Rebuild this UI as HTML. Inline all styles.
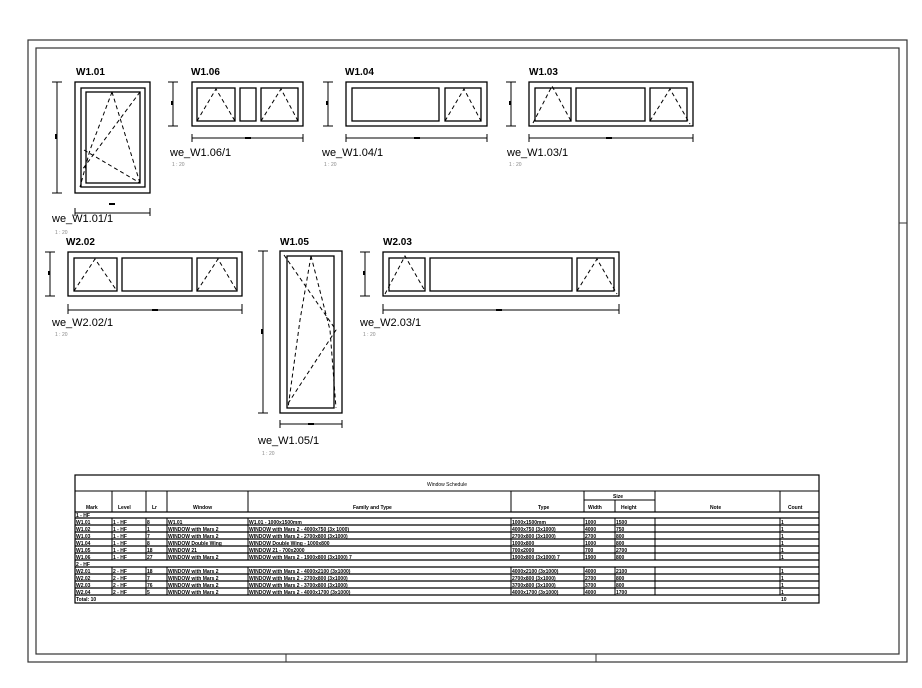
<!DOCTYPE html>
<html><head><meta charset="utf-8"><style>
html,body{margin:0;padding:0;background:#fff}
svg{display:block}
.t{font-family:"Liberation Sans",sans-serif;font-weight:bold;font-size:10px;fill:#000}
.n{font-family:"Liberation Sans",sans-serif;font-size:11px;fill:#000}
.s{font-family:"Liberation Sans",sans-serif;font-size:5px;fill:#888}
.x{font-family:"Liberation Sans",sans-serif;font-size:5px;fill:#000}
.xb{font-family:"Liberation Sans",sans-serif;font-size:5px;font-weight:bold;fill:#000}
.f{fill:none;stroke:#000;stroke-width:1.3}
.d{fill:none;stroke:#000;stroke-width:1;stroke-dasharray:4,3}
.l{stroke:#000;stroke-width:1;fill:none}
</style></head><body>
<svg width="922" height="688" viewBox="0 0 922 688" xmlns="http://www.w3.org/2000/svg">
<rect x="28" y="40" width="879" height="622" fill="none" stroke="#333" stroke-width="1.2"/>
<rect x="36" y="48" width="863" height="606" fill="none" stroke="#333" stroke-width="1.2"/>
<line x1="899" y1="223" x2="907" y2="223" stroke="#333"/>
<line x1="286" y1="654" x2="286" y2="662" stroke="#333"/>
<line x1="596" y1="654" x2="596" y2="662" stroke="#333"/>

<text class="t" x="76" y="75">W1.01</text>
<rect class="f" x="75" y="82" width="75" height="111"/>
<rect class="f" x="81" y="88" width="64" height="99"/>
<rect class="f" x="86" y="92" width="54" height="91"/>
<path class="d" d="M112,92 L90,150 L80,187 M112,92 L140,183 M140,92 L82,170 M84,150 L140,183"/>
<path class="l" d="M57,82 V193 M52,82 H62 M52,193 H62 M75,208 V216 M150,208 V216 M75,213 H150"/>
<rect x="55" y="134" width="2" height="5" fill="#000"/>
<rect x="109" y="203" width="6" height="2" fill="#000"/>
<text class="n" x="52" y="222">we_W1.01/1</text>
<text class="s" x="55" y="234">1 : 20</text>

<text class="t" x="191" y="75">W1.06</text>
<rect class="f" x="192" y="82" width="111" height="44"/>
<rect class="f" x="197" y="88" width="38" height="33"/>
<rect class="f" x="240" y="88" width="16" height="33"/>
<rect class="f" x="261" y="88" width="37" height="33"/>
<path class="d" d="M197,121 L216,89 L235,121 M261,121 L281,89 L298,121"/>
<path class="l" d="M173,82 V126 M168,82 H178 M168,126 H178 M192,134 V142 M303,134 V142 M192,138 H303"/>
<rect x="171" y="101" width="2" height="4" fill="#000"/>
<rect x="245" y="137" width="6" height="2" fill="#000"/>
<text class="n" x="170" y="156">we_W1.06/1</text>
<text class="s" x="172" y="166">1 : 20</text>

<text class="t" x="345" y="75">W1.04</text>
<rect class="f" x="346" y="82" width="141" height="44"/>
<rect class="f" x="352" y="88" width="87" height="33"/>
<rect class="f" x="445" y="88" width="36" height="33"/>
<path class="d" d="M445,121 L464,89 L481,121"/>
<path class="l" d="M328,82 V126 M323,82 H333 M323,126 H333 M346,134 V142 M487,134 V142 M346,138 H487"/>
<rect x="326" y="101" width="2" height="4" fill="#000"/>
<rect x="414" y="137" width="6" height="2" fill="#000"/>
<text class="n" x="322" y="156">we_W1.04/1</text>
<text class="s" x="324" y="166">1 : 20</text>

<text class="t" x="529" y="75">W1.03</text>
<rect class="f" x="529" y="82" width="164" height="44"/>
<rect class="f" x="535" y="88" width="36" height="33"/>
<rect class="f" x="576" y="88" width="69" height="33"/>
<rect class="f" x="650" y="88" width="37" height="33"/>
<path class="d" d="M533,123 L552,86 L571,121 M650,121 L670,89 L690,124"/>
<path class="l" d="M511,82 V126 M506,82 H516 M506,126 H516 M529,134 V142 M693,134 V142 M529,138 H693"/>
<rect x="509" y="101" width="2" height="4" fill="#000"/>
<rect x="606" y="137" width="6" height="2" fill="#000"/>
<text class="n" x="507" y="156">we_W1.03/1</text>
<text class="s" x="509" y="166">1 : 20</text>

<text class="t" x="66" y="245">W2.02</text>
<rect class="f" x="68" y="252" width="174" height="44"/>
<rect class="f" x="74" y="258" width="43" height="33"/>
<rect class="f" x="122" y="258" width="70" height="33"/>
<rect class="f" x="197" y="258" width="40" height="33"/>
<path class="d" d="M74,291 L95,259 L117,291 M197,291 L218,259 L237,291"/>
<path class="l" d="M50,252 V296 M45,252 H55 M45,296 H55 M68,304 V314 M242,304 V314 M68,310 H242"/>
<rect x="48" y="271" width="2" height="4" fill="#000"/>
<rect x="152" y="309" width="6" height="2" fill="#000"/>
<text class="n" x="52" y="326">we_W2.02/1</text>
<text class="s" x="55" y="336">1 : 20</text>

<text class="t" x="280" y="245">W1.05</text>
<rect class="f" x="280" y="251" width="62" height="162"/>
<rect class="f" x="287" y="256" width="47" height="152"/>
<path class="d" d="M284,255 L336,330 L287,405 M311,256 L300,320 L288,408 M311,256 L330,330 L336,408"/>
<path class="l" d="M263,251 V413 M258,251 H268 M258,413 H268 M280,420 V428 M342,420 V428 M280,424 H342"/>
<rect x="261" y="329" width="2" height="5" fill="#000"/>
<rect x="308" y="423" width="6" height="2" fill="#000"/>
<text class="n" x="258" y="444">we_W1.05/1</text>
<text class="s" x="262" y="455">1 : 20</text>

<text class="t" x="383" y="245">W2.03</text>
<rect class="f" x="383" y="252" width="236" height="44"/>
<rect class="f" x="389" y="258" width="36" height="33"/>
<rect class="f" x="430" y="258" width="142" height="33"/>
<rect class="f" x="577" y="258" width="37" height="33"/>
<path class="d" d="M385,294 L405,256 L425,291 M577,291 L597,259 L617,294"/>
<path class="l" d="M365,252 V296 M360,252 H370 M360,296 H370 M383,304 V314 M619,304 V314 M383,310 H619"/>
<rect x="363" y="271" width="2" height="4" fill="#000"/>
<rect x="496" y="309" width="6" height="2" fill="#000"/>
<text class="n" x="360" y="326">we_W2.03/1</text>
<text class="s" x="363" y="336">1 : 20</text>

<g>
<rect x="75" y="475" width="744" height="128" fill="none" stroke="#000" stroke-width="1.2"/>
<line x1="75" y1="491" x2="819" y2="491" stroke="#000"/>
<line x1="75" y1="512" x2="819" y2="512" stroke="#000" stroke-width="1.2"/>
<text class="x" x="447" y="486" text-anchor="middle" font-size="6">Window Schedule</text>
<g stroke="#000" stroke-width="1">
<line x1="112" y1="491" x2="112" y2="512"/><line x1="146" y1="491" x2="146" y2="512"/>
<line x1="167" y1="491" x2="167" y2="512"/><line x1="248" y1="491" x2="248" y2="512"/>
<line x1="511" y1="491" x2="511" y2="512"/><line x1="584" y1="491" x2="584" y2="512"/>
<line x1="655" y1="491" x2="655" y2="512"/><line x1="780" y1="491" x2="780" y2="512"/>
<line x1="584" y1="500" x2="655" y2="500"/><line x1="615" y1="500" x2="615" y2="512"/>
</g>
<g class="x" font-size="5.5" font-weight="bold">
<text x="86" y="509">Mark</text><text x="118" y="509">Level</text><text x="152" y="509">Lr</text>
<text x="193" y="509">Window</text><text x="353" y="509">Family and Type</text>
<text x="538" y="509">Type</text><text x="613" y="498">Size</text>
<text x="588" y="509">Width</text><text x="621" y="509">Height</text>
<text x="710" y="509">Note</text><text x="788" y="509">Count</text>
</g>
<g stroke="#000" stroke-width="1.2">
<line x1="75" y1="518" x2="819" y2="518"/><line x1="75" y1="525" x2="819" y2="525"/>
<line x1="75" y1="532" x2="819" y2="532"/><line x1="75" y1="539" x2="819" y2="539"/>
<line x1="75" y1="546" x2="819" y2="546"/><line x1="75" y1="553" x2="819" y2="553"/>
<line x1="75" y1="560" x2="819" y2="560"/>
<line x1="75" y1="567" x2="819" y2="567"/><line x1="75" y1="574" x2="819" y2="574"/>
<line x1="75" y1="581" x2="819" y2="581"/><line x1="75" y1="588" x2="819" y2="588"/>
<line x1="75" y1="595" x2="819" y2="595"/>
</g>
<g stroke="#000" stroke-width="1">
<path d="M112,518V560M146,518V560M167,518V560M248,518V560M511,518V560M584,518V560M615,518V560M655,518V560M780,518V560"/>
<path d="M112,567V595M146,567V595M167,567V595M248,567V595M511,567V595M584,567V595M615,567V595M655,567V595M780,567V595"/>
</g>
<g class="xb">
<text x="76" y="517">1 - HF</text>
<text x="76" y="524">W1.01</text><text x="113" y="524">1 - HF</text><text x="147" y="524">8</text><text x="168" y="524">W1.01</text><text x="249" y="524">W1.01 - 1000x1500mm</text><text x="512" y="524">1000x1500mm</text><text x="585" y="524">1000</text><text x="616" y="524">1500</text><text x="781" y="524">1</text>
<text x="76" y="531">W1.02</text><text x="113" y="531">1 - HF</text><text x="147" y="531">1</text><text x="168" y="531">WINDOW with Mars 2</text><text x="249" y="531">WINDOW with Mars 2 - 4000x750 (3x 1000)</text><text x="512" y="531">4000x750 (3x1000)</text><text x="585" y="531">4000</text><text x="616" y="531">750</text><text x="781" y="531">1</text>
<text x="76" y="538">W1.03</text><text x="113" y="538">1 - HF</text><text x="147" y="538">7</text><text x="168" y="538">WINDOW with Mars 2</text><text x="249" y="538">WINDOW with Mars 2 - 2700x800 (3x1000)</text><text x="512" y="538">2700x800 (3x1000)</text><text x="585" y="538">2700</text><text x="616" y="538">800</text><text x="781" y="538">1</text>
<text x="76" y="545">W1.04</text><text x="113" y="545">1 - HF</text><text x="147" y="545">8</text><text x="168" y="545">WINDOW Double Wing</text><text x="249" y="545">WINDOW Double Wing - 1000x800</text><text x="512" y="545">1000x800</text><text x="585" y="545">1000</text><text x="616" y="545">800</text><text x="781" y="545">1</text>
<text x="76" y="552">W1.05</text><text x="113" y="552">1 - HF</text><text x="147" y="552">18</text><text x="168" y="552">WINDOW 21</text><text x="249" y="552">WINDOW 21 - 700x2000</text><text x="512" y="552">700x2000</text><text x="585" y="552">700</text><text x="616" y="552">2700</text><text x="781" y="552">1</text>
<text x="76" y="559">W1.06</text><text x="113" y="559">1 - HF</text><text x="147" y="559">27</text><text x="168" y="559">WINDOW with Mars 2</text><text x="249" y="559">WINDOW with Mars 2 - 1900x800 (3x1000) 7</text><text x="512" y="559">1900x800 (3x1000) 7</text><text x="585" y="559">1900</text><text x="616" y="559">800</text><text x="781" y="559">1</text>
<text x="76" y="566">2 - HF</text>
<text x="76" y="573">W2.01</text><text x="113" y="573">2 - HF</text><text x="147" y="573">18</text><text x="168" y="573">WINDOW with Mars 2</text><text x="249" y="573">WINDOW with Mars 2 - 4000x2100 (3x1000)</text><text x="512" y="573">4000x2100 (3x1000)</text><text x="585" y="573">4000</text><text x="616" y="573">2100</text><text x="781" y="573">1</text>
<text x="76" y="580">W2.02</text><text x="113" y="580">2 - HF</text><text x="147" y="580">7</text><text x="168" y="580">WINDOW with Mars 2</text><text x="249" y="580">WINDOW with Mars 2 - 2700x800 (3x1000)</text><text x="512" y="580">2700x800 (3x1000)</text><text x="585" y="580">2700</text><text x="616" y="580">800</text><text x="781" y="580">1</text>
<text x="76" y="587">W2.03</text><text x="113" y="587">2 - HF</text><text x="147" y="587">76</text><text x="168" y="587">WINDOW with Mars 2</text><text x="249" y="587">WINDOW with Mars 2 - 3700x800 (3x1000)</text><text x="512" y="587">3700x800 (3x1000)</text><text x="585" y="587">3700</text><text x="616" y="587">800</text><text x="781" y="587">1</text>
<text x="76" y="594">W2.04</text><text x="113" y="594">2 - HF</text><text x="147" y="594">5</text><text x="168" y="594">WINDOW with Mars 2</text><text x="249" y="594">WINDOW with Mars 2 - 4000x1700 (3x1000)</text><text x="512" y="594">4000x1700 (3x1000)</text><text x="585" y="594">4000</text><text x="616" y="594">1700</text><text x="781" y="594">1</text>
<text x="76" y="601">Total: 10</text><text x="781" y="601">10</text>
</g>
</g>
</svg>
</body></html>
